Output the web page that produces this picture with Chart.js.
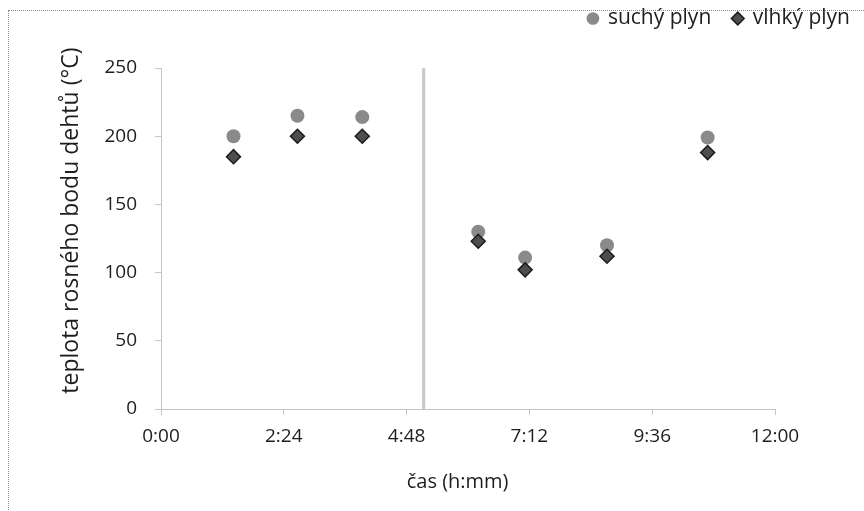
<!DOCTYPE html>
<html lang="cs">
<head>
    <meta charset="UTF-8">
    <title>Teplota rosného bodu dehtů</title>
    <script src="https://cdn.jsdelivr.net/npm/chart.js"></script>
    <style>
        body {
            margin: 0;
            padding: 0;
            background: #fff;
            overflow: hidden;
        }

        .frame {
            position: absolute;
            left: 8px;
            top: 10px;
            width: 900px;
            height: 600px;
            border: 1px dotted #8c8c8c;
        }

        canvas {
            position: absolute;
            left: 0;
            top: 0;
        }
    </style>
</head>
<body>
    <div class="frame"></div>
    <canvas id="chart" width="864" height="511"></canvas>

    <script>
        // data (time as h:mm, temperature in °C)
        const times = ['1:25', '2:40', '3:56', '6:12', '7:07', '8:43', '10:41'];
        const dryGas = [200, 215, 214, 130, 111, 120, 199];
        const wetGas = [185, 200, 200, 123, 102, 112, 188];
        const markerTime = '5:08';
        const markerRange = [0, 250];

        const toMin = t => {
            const [h, m] = t.split(':').map(Number);
            return h * 60 + m;
        };
        const fmt = v => Math.floor(v / 60) + ':' + String(Math.round(v % 60)).padStart(2, '0');

        const font = 'Open Sans';
        const textColor = '#1e1e1e';
        const axisColor = '#c4c4c4';
        const nb = '\u00a0';

        // push the plot area down below the legend
        const legendSpacer = {
            id: 'legendSpacer',
            beforeInit(chart) {
                const fit = chart.legend.fit;
                chart.legend.fit = function () {
                    fit.bind(chart.legend)();
                    this.height += 29;
                };
            }
        };

        new Chart(document.getElementById('chart'), {
            type: 'scatter',
            data: {
                datasets: [
                    {
                        label: 'suchý plyn',
                        data: times.map((t, i) => ({ x: toMin(t), y: dryGas[i] })),
                        pointStyle: 'circle',
                        pointRadius: 7,
                        backgroundColor: '#8a8a8a',
                        borderColor: '#8a8a8a',
                        borderWidth: 0,
                        order: 1
                    },
                    {
                        label: 'vlhký plyn',
                        data: times.map((t, i) => ({ x: toMin(t), y: wetGas[i] })),
                        pointStyle: 'rectRot',
                        pointRadius: 7,
                        backgroundColor: '#4e4e4e',
                        borderColor: '#1c1c1c',
                        borderWidth: 1.5,
                        order: 0
                    },
                    {
                        label: 'marker',
                        type: 'line',
                        data: markerRange.map(y => ({ x: toMin(markerTime), y: y })),
                        borderColor: '#c8c8c8',
                        borderWidth: 3,
                        pointRadius: 0,
                        order: 2
                    }
                ]
            },
            options: {
                responsive: false,
                devicePixelRatio: 1,
                animation: false,
                layout: {
                    padding: { top: -14, left: 0, right: -8, bottom: 0 }
                },
                plugins: {
                    tooltip: { enabled: false },
                    legend: {
                        position: 'top',
                        align: 'end',
                        labels: {
                            usePointStyle: true,
                            boxWidth: 9,
                            boxHeight: 9,
                            padding: 22,
                            color: textColor,
                            font: { family: font, size: 21 },
                            filter: item => item.text !== 'marker',
                            sort: (a, b) => a.datasetIndex - b.datasetIndex
                        }
                    }
                },
                scales: {
                    x: {
                        type: 'linear',
                        min: 0,
                        max: 720,
                        afterFit: s => { s.height = 102; },
                        ticks: {
                            stepSize: 144,
                            padding: 10,
                            color: textColor,
                            font: { family: font, size: 19 },
                            callback: v => fmt(v)
                        },
                        grid: {
                            drawOnChartArea: false,
                            tickLength: 6,
                            color: axisColor
                        },
                        border: { color: axisColor, width: 1 },
                        title: {
                            display: true,
                            text: 'čas (h:mm)' + nb.repeat(4),
                            color: textColor,
                            font: { family: font, size: 20 },
                            padding: { top: 0, bottom: 17 }
                        }
                    },
                    y: {
                        min: 0,
                        max: 250,
                        afterFit: s => { s.width = 161; },
                        ticks: {
                            stepSize: 50,
                            padding: 18,
                            color: textColor,
                            font: { family: font, size: 19 }
                        },
                        grid: {
                            drawOnChartArea: false,
                            tickLength: 6,
                            color: axisColor
                        },
                        border: { color: axisColor, width: 1 },
                        title: {
                            display: true,
                            text: nb.repeat(6) + 'teplota rosného bodu dehtů (°C)',
                            color: textColor,
                            font: { family: font, size: 23 },
                            padding: { top: 58, bottom: 0 }
                        }
                    },
                    yRight: {
                        position: 'right',
                        display: true,
                        afterFit: s => { s.width = 97; },
                        ticks: { display: false },
                        grid: { display: false },
                        border: { display: false }
                    }
                }
            },
            plugins: [legendSpacer]
        });
    </script>
</body>
</html>
